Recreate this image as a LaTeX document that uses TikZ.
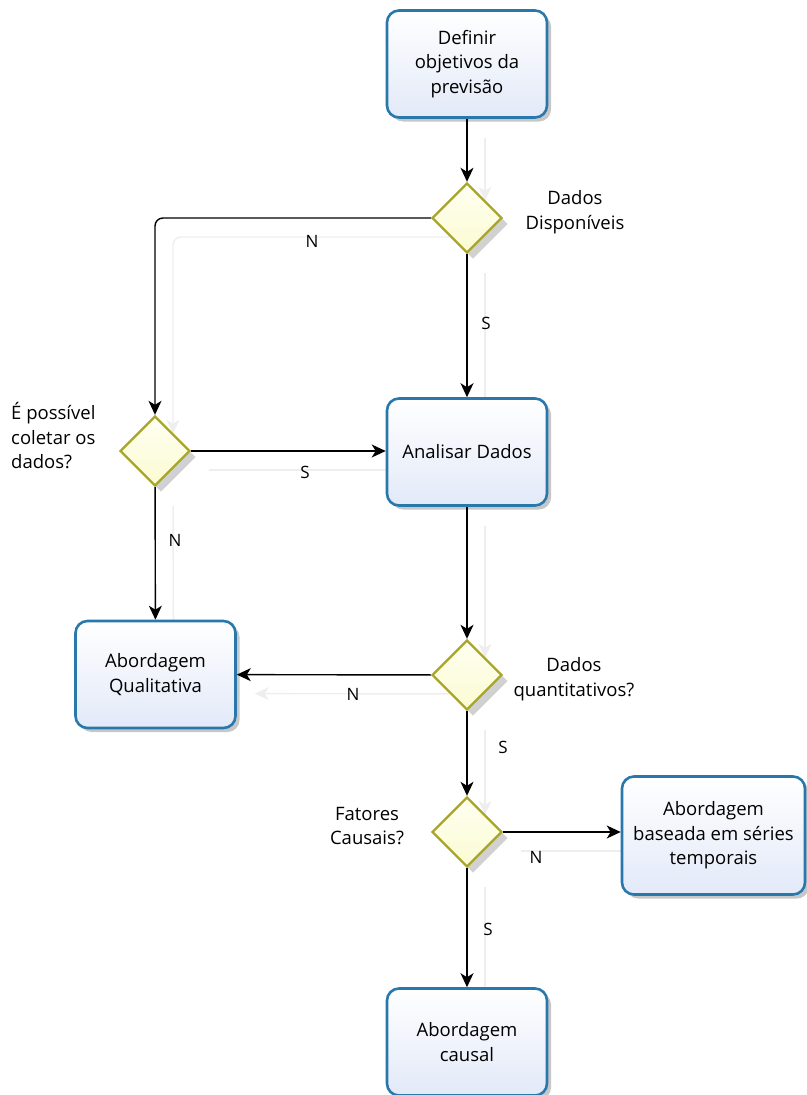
\documentclass[tikz,border=0pt]{standalone}
\usepackage{fontspec}
\setmainfont{Open Sans}
\usetikzlibrary{shapes.geometric,arrows.meta,shadows,backgrounds}
\definecolor{boxline}{HTML}{2878AC}
\definecolor{boxtop}{HTML}{FFFFFF}
\definecolor{boxbot}{HTML}{E2E9F8}
\definecolor{decline}{HTML}{A8A62A}
\definecolor{dectop}{HTML}{FFFFF2}
\definecolor{decbot}{HTML}{FBFBD2}
\definecolor{ghostgray}{HTML}{EEEEEE}
\tikzset{
  every node/.style={font=\fontsize{18.5}{24.5}\selectfont},
  task/.style={draw=boxline, line width=2.6pt, rounded corners=12pt,
    top color=boxtop, bottom color=boxbot, minimum width=160pt,
    minimum height=107pt, align=center, inner sep=4pt,
    drop shadow={shadow xshift=4pt, shadow yshift=-4pt, opacity=0.22, fill=black}},
  gate/.style={diamond, draw=decline, line width=2.4pt, top color=dectop,
    bottom color=decbot, minimum width=70pt, minimum height=70pt, inner sep=0pt,
    drop shadow={shadow xshift=6pt, shadow yshift=-6pt, opacity=0.18, fill=black}},
  note/.style={align=center, inner sep=0pt},
  arr/.style={draw=black, line width=1.4pt, -{Stealth[length=14pt,width=13pt,inset=4pt]}},
  ghost/.style={draw=ghostgray, line width=1.4pt, -{Stealth[length=14pt,width=13pt,inset=4pt]}},
  elabel/.style={inner sep=0pt, font=\fontsize{17}{20}\selectfont}
}
\begin{document}
\begin{tikzpicture}[x=1pt,y=-1pt]
\useasboundingbox (0,0) rectangle (806,1095);

% process boxes
\node[task] (def) at (467,64) {Definir\\objetivos da\\previsão};
\node[task] (ana) at (467,452) {Analisar Dados};
\node[task] (qual) at (155.5,674.5) {Abordagem\\Qualitativa};
\node[task, minimum width=183pt, minimum height=118pt] (ser) at (713.5,835.5) {Abordagem\\baseada em séries\\temporais};
\node[task] (caus) at (467,1042) {Abordagem\\causal};

% decision diamonds
\node[gate] (d1) at (467,218) {};
\node[gate] (d2) at (155,451) {};
\node[gate] (d3) at (467,675) {};
\node[gate] (d4) at (467,832) {};

% decision captions
\node[note] (t1) at (575,212) {Dados\\Disponíveis};
\node[note, align=left, anchor=west] (t2) at (11,436) {É possível\\coletar os\\dados?};
\node[note] (t3) at (574,679) {Dados\\quantitativos?};
\node[note] (t4) at (367,826) {Fatores\\Causais?};

% faint connector shadows
\begin{pgfonlayer}{background}
\begin{scope}[transform canvas={shift={(18pt,-19pt)}}]
  \draw[ghost] (def) -- (d1);
  \draw[ghost, rounded corners=8pt] (d1.west) -| (d2.north);
  \draw[ghost] (d1) -- (ana);
  \draw[ghost] (d2.east) -- (d2.east -| ana.west);
  \draw[ghost] (d2) -- (qual);
  \draw[ghost] (ana) -- (d3);
  \draw[ghost] (d3) -- (qual);
  \draw[ghost] (d3) -- (d4);
  \draw[ghost] (d4.east) -- (d4.east -| ser.west);
  \draw[ghost] (d4) -- (caus);
\end{scope}
\end{pgfonlayer}

% connectors
\draw[arr] (def) -- (d1);
\draw[arr, rounded corners=8pt] (d1.west) -| (d2.north);
\draw[arr] (d1) -- (ana);
\draw[arr] (d2.east) -- (d2.east -| ana.west);
\draw[arr] (d2) -- (qual);
\draw[arr] (ana) -- (d3);
\draw[arr] (d3) -- (qual);
\draw[arr] (d3) -- (d4);
\draw[arr] (d4.east) -- (d4.east -| ser.west);
\draw[arr] (d4) -- (caus);

% branch labels
\node[elabel] (l1) at (312,241) {N};
\node[elabel] (l2) at (486,323) {S};
\node[elabel] (l3) at (305,472) {S};
\node[elabel] (l4) at (175,540) {N};
\node[elabel] (l5) at (353,694) {N};
\node[elabel] (l6) at (503,747) {S};
\node[elabel] (l7) at (536,857) {N};
\node[elabel] (l8) at (488,929) {S};
\end{tikzpicture}
\end{document}
